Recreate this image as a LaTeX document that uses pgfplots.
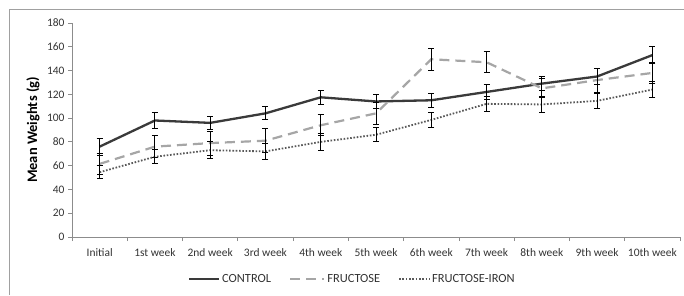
\documentclass[border=0pt]{standalone}
\usepackage{pgfplots}
\pgfplotsset{compat=1.18}
\usepackage{pgfplotstable}
\usepackage{fontspec}
\setmainfont{Carlito}
\definecolor{ctrl}{HTML}{3A3A3A}
\definecolor{fruc}{HTML}{A6A6A6}
\definecolor{iron}{HTML}{595959}
\definecolor{axisc}{HTML}{8C8C8C}
\definecolor{labc}{HTML}{333333}
\definecolor{framec}{HTML}{A0A0A0}

\pgfplotstableread{
x y e
0 76 7
1 98 6.5
2 96 5.5
3 104 5.5
4 117.5 6
5 114 6
6 115 6
7 122 6
8 129 6
9 135 6.5
10 153 7
}\control

\pgfplotstableread{
x y e
0 61.5 9
1 76 9
2 79 10
3 81 10
4 94 9
5 104 9
6 149.5 9
7 147 9
8 125 8
9 132 10
10 138 9
}\fructose

\pgfplotstableread{
x y e
0 54.5 5.5
1 67.5 6
2 73 7
3 72 6.5
4 80 7
5 86 6
6 98.5 6.5
7 112 6.5
8 111.5 6.5
9 114.5 6.5
10 124 6.5
}\iron

\begin{document}
\begin{tikzpicture}[x=1bp,y=1bp]
\useasboundingbox (0,0) rectangle (684,295);
\draw[color=framec, line width=1bp] (9.5,0) -- (9.5,285.5) -- (684,285.5);
\begin{axis}[
  scale only axis, width=608bp, height=214bp,
  at={(72bp,58bp)}, anchor=south west,
  xmin=-0.5, xmax=10.5, ymin=0, ymax=180,
  axis x line*=bottom, axis y line*=left,
  axis line style={axisc, line width=0.8bp, -},
  xtick={-0.5,0.5,...,10.5}, x tick label as interval,
  xticklabels={Initial,1st week,2nd week,3rd week,4th week,5th week,6th week,7th week,8th week,9th week,10th week},
  ytick={0,20,...,180},
  tick align=outside, major tick length=4bp,
  tick style={axisc, line width=0.8bp},
  ticklabel style={font=\fontsize{11.5}{13}\selectfont, text=labc},
  xticklabel style={yshift=-4bp},
  /pgf/number format/assume math mode=true,
  ylabel={\textbf{Mean Weights (g)}},
  ylabel style={font=\fontsize{14.5}{16}\selectfont, text=black, at={(axis description cs:-0.064,0.5)}, anchor=center, rotate=0},
  legend style={at={(0.461,-0.195)}, anchor=center, draw=none, fill=none,
    font=\fontsize{12.5}{14}\selectfont, text=labc,
    legend columns=3, /tikz/every even column/.append style={column sep=16bp},
    inner sep=0pt},
  legend cell align=left,
  every axis plot/.append style={no markers},
]
\addplot[ctrl, line width=2.3bp,
  legend image code/.code={\draw[ctrl, line width=2.3bp] (0bp,0bp) -- (30bp,0bp);},
  error bars/.cd, y dir=both, y explicit,
  error bar style={black, line width=0.9bp, solid},
  error mark options={black, line width=0.9bp, mark size=3bp, solid, rotate=90}]
  table[x=x, y=y, y error=e] {\control};
\addlegendentry{CONTROL}
\addplot[fruc, line width=2.2bp, dash pattern=on 10bp off 6bp,
  legend image code/.code={\draw[fruc, line width=2.2bp, dash pattern=on 10bp off 6bp] (0bp,0bp) -- (34bp,0bp);},
  error bars/.cd, y dir=both, y explicit,
  error bar style={black, line width=0.9bp, solid},
  error mark options={black, line width=0.9bp, mark size=3bp, solid, rotate=90}]
  table[x=x, y=y, y error=e] {\fructose};
\addlegendentry{FRUCTOSE}
\addplot[iron, line width=1.8bp, dash pattern=on 1.6bp off 1.7bp,
  legend image code/.code={\draw[iron, line width=1.8bp, dash pattern=on 1.6bp off 1.7bp] (0bp,0bp) -- (30bp,0bp);},
  error bars/.cd, y dir=both, y explicit,
  error bar style={black, line width=0.9bp, solid},
  error mark options={black, line width=0.9bp, mark size=3bp, solid, rotate=90}]
  table[x=x, y=y, y error=e] {\iron};
\addlegendentry{FRUCTOSE-IRON}
\end{axis}
\end{tikzpicture}
\end{document}
